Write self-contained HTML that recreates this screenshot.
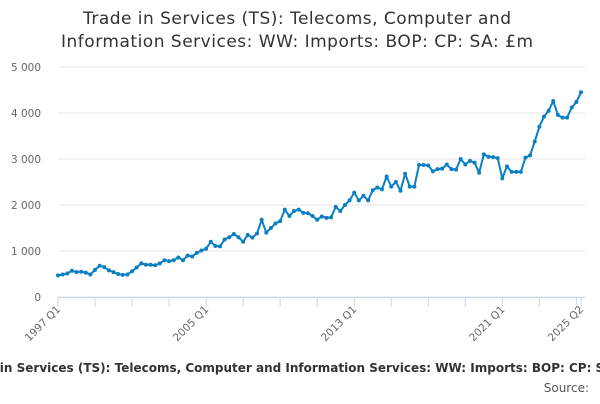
<!DOCTYPE html>
<html><head><meta charset="utf-8"><style>
body{margin:0;width:600px;height:400px;overflow:hidden;background:#fff;font-family:"DejaVu Sans",sans-serif;}
</style></head><body>
<svg width="600" height="400" id="c" style="font-family:'DejaVu Sans',sans-serif">
<text x="297" y="24" text-anchor="middle" font-size="17" fill="#333" textLength="428">Trade in Services (TS): Telecoms, Computer and</text>
<text x="297" y="47" text-anchor="middle" font-size="17" fill="#333" textLength="472">Information Services: WW: Imports: BOP: CP: SA: £m</text>
<text x="-42" y="372" font-size="12" font-weight="bold" fill="#333">Trade in Services (TS): Telecoms, Computer and Information Services: WW: Imports: BOP: CP: SA: £m</text>
<text x="589" y="392" text-anchor="end" font-size="12" fill="#555">Source:</text>
</svg>
<script>
const values=[470,490,510,570,540,550,530,490,590,680,650,580,540,500,480,490,560,640,730,700,700,690,730,800,780,800,860,800,900,880,960,1010,1050,1200,1110,1100,1250,1300,1370,1300,1200,1350,1290,1380,1680,1400,1500,1600,1650,1900,1760,1870,1900,1830,1820,1760,1680,1750,1720,1730,1960,1870,2000,2100,2270,2100,2200,2100,2320,2380,2340,2620,2400,2500,2310,2680,2400,2400,2870,2870,2860,2730,2780,2790,2880,2780,2770,3000,2880,2960,2920,2700,3100,3050,3040,3020,2580,2840,2720,2720,2720,3030,3080,3380,3700,3920,4050,4260,3960,3900,3900,4120,4240,4450];
const yTicks=[0,1000,2000,3000,4000,5000];
const yTickLabels=["0","1 000","2 000","3 000","4 000","5 000"];
const xLabelIdx=[0,32,64,96,113];
const xLabels=["1997 Q1","2005 Q1","2013 Q1","2021 Q1","2025 Q2"];
const svg=document.getElementById('c');const NS='http://www.w3.org/2000/svg';
const X=i=>58+i*(581-58)/(values.length-1);
const Y=v=>297-v*(230/5000);
function mk(t,a){const e=document.createElementNS(NS,t);for(const k in a)e.setAttribute(k,a[k]);svg.appendChild(e);return e;}
yTicks.forEach((t,i)=>{
 const g=mk('line',{x1:58,x2:585,y1:Y(t),y2:Y(t),stroke:'#e6e6e6'});
 
 
 const l=mk('text',{x:41,y:Y(t)+4,'text-anchor':'end','font-size':10.5,fill:'#666'});l.textContent=yTickLabels[i];
 
 
});
const ax=mk('line',{x1:58,x2:585,y1:297.5,y2:297.5,stroke:'#ccd6eb'});


for(let i=0;i<values.length;i+=8){const t=mk('line',{x1:X(i),x2:X(i),y1:297,y2:307,stroke:'#ccd6eb'});
 
 }
const te=mk('line',{x1:X(113),x2:X(113),y1:297,y2:307,stroke:'#ccd6eb'});


xLabelIdx.forEach((idx,i)=>{const x=X(idx)+3,y=310;
 const l=mk('text',{x:x,y:y,'text-anchor':'end','font-size':10.5,fill:'#666',transform:`rotate(-45 ${x} ${y})`});l.textContent=xLabels[i];
 
 });
const p=mk('polyline',{points:values.map((v,i)=>X(i)+','+Y(v)).join(' '),fill:'none',stroke:'#0a7fc2','stroke-width':2,'stroke-linejoin':'round'});


values.forEach((v,i)=>{const c=mk('circle',{cx:X(i),cy:Y(v),r:2,fill:'#0a7fc2'});
 
 });
</script>
</body></html>
